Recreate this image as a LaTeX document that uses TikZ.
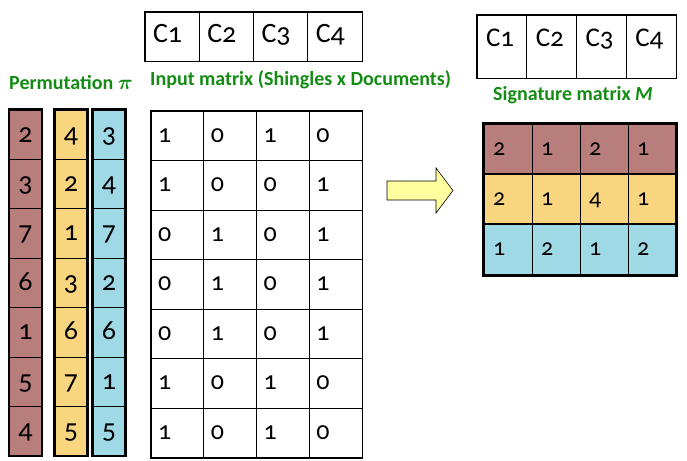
\documentclass[tikz,border=0pt]{standalone}
\usepackage{fontspec}
\setmainfont{Carlito}[Numbers=OldStyle]
\usetikzlibrary{positioning}
\definecolor{rose}{RGB}{183,126,124}
\definecolor{sand}{RGB}{250,213,128}
\definecolor{sky}{RGB}{160,217,230}
\definecolor{lblgreen}{RGB}{20,140,20}
\definecolor{arrowfill}{RGB}{255,255,160}
\tikzset{
  frame/.style={line width=2.4pt},
  pcell/.style={draw, line width=0.8pt, inner sep=0pt, minimum width=32.5pt,
    text height=32pt, text depth=17.4pt, font=\fontsize{28}{28}\selectfont},
  mcell/.style={draw, line width=0.8pt, inner xsep=7pt, inner ysep=0pt, text width=38.75pt,
    align=left, text height=31pt, text depth=18.57pt, font=\fontsize{26}{26}\selectfont},
  scell/.style={draw, line width=0.8pt, inner xsep=9pt, inner ysep=0pt, text width=30pt,
    align=left, text height=31pt, text depth=19.3pt, font=\fontsize{24}{24}\selectfont},
  hicell/.style={draw, line width=0.8pt, inner xsep=8pt, inner ysep=0pt, text width=38.25pt,
    align=left, text height=31pt, text depth=18pt, font=\fontsize{28}{28}\selectfont},
  hscell/.style={draw, line width=0.8pt, inner xsep=9pt, inner ysep=0pt, text width=31.75pt,
    align=left, text height=32pt, text depth=31pt, font=\fontsize{27}{27}\selectfont},
  lbl/.style={text=lblgreen, inner sep=0pt, anchor=west,
    font=\fontsize{20}{20}\selectfont\bfseries\boldmath}
}
\begin{document}
\begin{tikzpicture}[x=1pt,y=-1pt]
  \useasboundingbox (0,0) rectangle (687,460);
  % permutations
  \node[lbl] (permlbl) at (9,83) {Permutation $\pi$};
  \foreach \vals/\col/\x [count=\k] in {{2,3,7,6,1,5,4}/rose/25.5, {4,2,1,3,6,7,5}/sand/71, {3,4,7,2,6,1,5}/sky/109}{
    \foreach \v [count=\r] in \vals
      \node[pcell, fill=\col] (p\k-\r) at (\x,{110+49.4*(\r-0.5)}) {\v};
    \draw[frame] (p\k-1.north west) rectangle (p\k-7.south east);
  }
  % input matrix
  \foreach \v [count=\c] in {1,2,3,4}
    \node[hicell] (ci\c) at ({145+54.25*(\c-0.5)},36.5) {C\v};
  \draw[line width=1.8pt] (ci1.north west) rectangle (ci4.south east);
  \node[lbl] (inlbl) at (150,80) {Input matrix (Shingles x Documents)};
  \foreach \row [count=\r] in {{1,0,1,0},{1,0,0,1},{0,1,0,1},{0,1,0,1},{0,1,0,1},{1,0,1,0},{1,0,1,0}}
    \foreach \v [count=\c] in \row
      \node[mcell] (m\r-\c) at ({151+52.75*(\c-0.5)},{111+49.57*(\r-0.5)}) {\v};
  \draw[line width=1.8pt] (m1-1.north west) rectangle (m7-4.south east);
  % arrow
  \draw[line width=0.6pt, fill=arrowfill] (387,181) -- (436,181) -- (436,168) -- (453,190.5)
    -- (436,213) -- (436,200) -- (387,200) -- cycle;
  % signature matrix
  \foreach \v [count=\c] in {1,2,3,4}
    \node[hscell] (cs\c) at ({477+49.75*(\c-0.5)},46.5) {C\v};
  \draw[line width=1.8pt] (cs1.north west) rectangle (cs4.south east);
  \node[lbl] (siglbl) at (493,95) {Signature matrix \textit{M}};
  \foreach \row/\col [count=\r] in {{2,1,2,1}/rose, {2,1,4,1}/sand, {1,2,1,2}/sky}{
    \foreach \v [count=\c] in \row
      \node[scell, fill=\col] (s\r-\c) at ({484+48*(\c-0.5)},{124+50.3*(\r-0.5)}) {\v};
    \draw[frame] (s\r-1.north west) rectangle (s\r-4.south east);
  }
\end{tikzpicture}
\end{document}
